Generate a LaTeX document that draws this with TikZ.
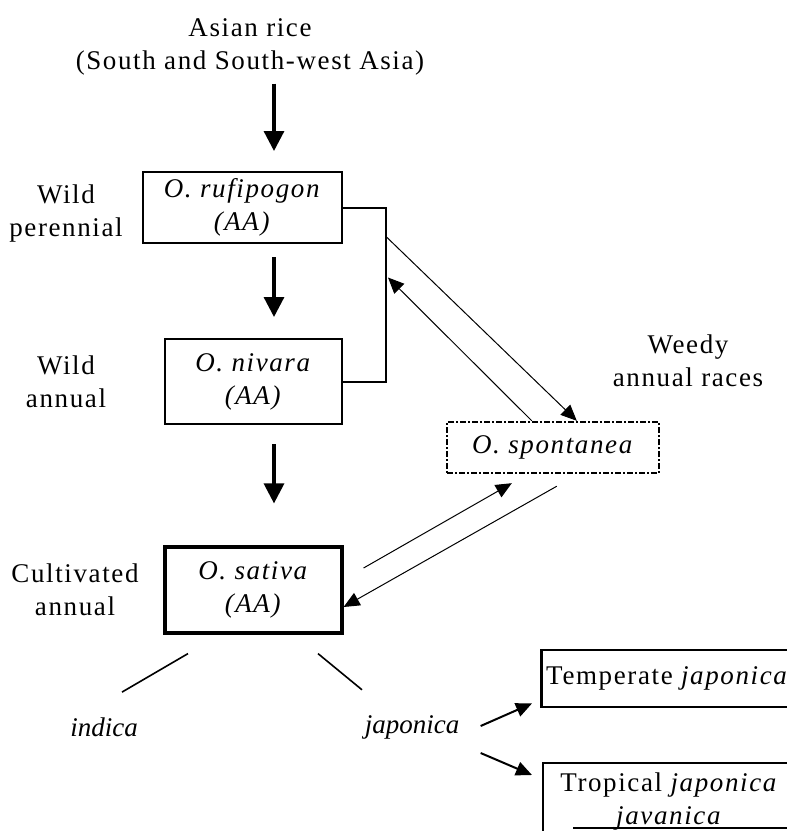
\documentclass[tikz,border=0pt]{standalone}
\usepackage{fontspec}
\setmainfont{Liberation Serif}
\newfontfamily\spaced[LetterSpace=6]{Liberation Serif}
\usetikzlibrary{arrows.meta, positioning, calc}

\begin{document}
\begin{tikzpicture}[x=0.5pt, y=-0.5pt,
    every node/.style={font=\spaced\fontsize{13.5}{16.5}\selectfont, align=center, inner sep=0pt},
    species/.style={rectangle, draw, line width=1pt},
    subsp/.style={font=\fontsize{13.5}{16.5}\selectfont\itshape},
    thickarrow/.style={-{Triangle[length=10pt,width=10pt]}, line width=1.6pt},
    thinarrow/.style={-{Triangle[length=8pt,width=7pt]}, line width=0.5pt},
    midarrow/.style={-{Triangle[length=8pt,width=7pt]}, line width=1pt}]
    \useasboundingbox (0,0) rectangle (787,831);
    \clip (0,0) rectangle (787,831);

    % Nodes
    \node (src) at (250,47) {Asian rice\\(South and South-west Asia)};
    \node (ruf) [species, minimum width=99.5pt, minimum height=35.5pt] at (242.5,207.5) {\textit{O. rufipogon}\\\textit{(AA)}};
    \node (niv) [species, minimum width=88.5pt, minimum height=42.5pt] at (253.5,381.5) {\textit{O. nivara}\\\textit{(AA)}};
    \node (sat) [species, line width=1.6pt, minimum width=88.5pt, minimum height=43pt] at (253.5,590) {\textit{O. sativa}\\\textit{(AA)}};
    \node (spon) [species, line width=1.2pt, dash pattern=on 3pt off 1pt on 1pt off 1pt, minimum width=106pt, minimum height=25.5pt] at (553,447.5) {\textit{O. spontanea}};
    \node (temp) [species, line width=1.4pt, anchor=west, minimum width=126pt, minimum height=28.5pt] at (540,678.5) {Temperate \textit{japonica}};
    \node (trop) [species, line width=1.2pt, anchor=north west, minimum width=126pt, inner ysep=5pt, text depth=30pt] at (542,762) {Tropical \textit{japonica}\\\textit{javanica}};

    % Labels
    \node (lwp) at (66,214) {Wild\\perennial};
    \node (lwa) at (66,382) {Wild\\annual};
    \node (lca) at (75,590) {Cultivated\\annual};
    \node (lwr) at (688,361) {Weedy\\annual races};
    \node (ind) [subsp] at (104,727) {indica};
    \node (jap) [subsp] at (412,727) {japonica};

    % Arrows
    \coordinate (col) at (274,0);
    \draw[thickarrow, shorten <=4pt, shorten >=10pt] (src.south -| col) -- (ruf.north -| col);
    \draw[thickarrow, shorten <=6.5pt, shorten >=10.5pt] (ruf.south -| col) -- (niv.north -| col);
    \draw[thickarrow, shorten <=9.5pt, shorten >=21pt] (niv.south -| col) -- (sat.north -| col);

    \coordinate (brk) at ($(ruf.east)+(43,0)$);
    \draw[line width=1pt] (ruf.east) -- (brk) |- (niv.east);

    \draw[thinarrow] ($(brk)+(0,29)$) -- ($(spon.north west)+(131,0)$);
    \draw[thinarrow] ($(spon.north west)+(86,0)$) -- ($(brk)+(2,70)$);
    \draw[thinarrow] ($(sat.east)+(20,-22)$) -- ($(spon.south west)+(66,9)$);
    \draw[thinarrow] ($(spon.south west)+(111,12)$) -- ($(sat.east)+(0,17)$);

    \draw[line width=0.8pt] ($(sat.south)+(-65.5,19)$) -- ($(ind.north)+(18,-25)$);
    \draw[line width=0.8pt] ($(sat.south)+(64.5,19)$) -- ($(jap.north)+(-50,-25)$);

    \draw[midarrow] ($(jap.east)+(21,-1)$) -- ($(temp.south west)+(-8,-5)$);
    \draw[midarrow] ($(jap.east)+(21,26)$) -- ($(trop.north west)+(-10,13)$);

    \draw[line width=1pt] ($(trop.north west)+(31,66)$) -- ++(230,0);
\end{tikzpicture}
\end{document}
